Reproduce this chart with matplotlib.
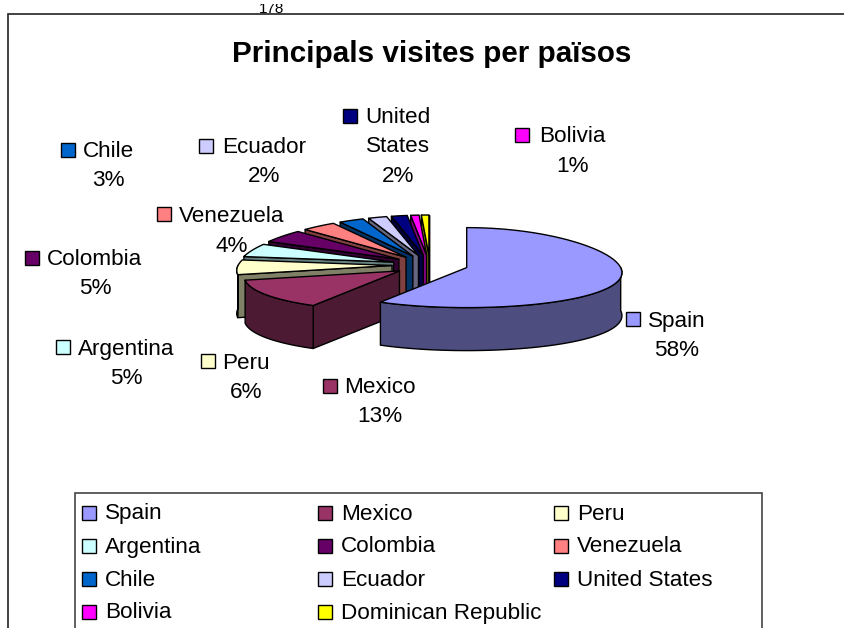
import numpy as np
import matplotlib
matplotlib.use('Agg')
import matplotlib.pyplot as plt
from matplotlib.patches import Polygon, Rectangle

plt.rcParams['font.family'] = ['Liberation Sans', 'DejaVu Sans']

# Data
countries = ['Spain', 'Mexico', 'Peru', 'Argentina', 'Colombia', 'Venezuela',
             'Chile', 'Ecuador', 'United States', 'Bolivia', 'Dominican Republic']
visits = [58.4, 12.9, 5.9, 5.1, 4.9, 3.9, 2.9, 2.2, 1.9, 1.0, 0.9]
colors = ['#9999FF', '#993366', '#FFFFCC', '#CCFFFF', '#660066', '#FF8080',
          '#0066CC', '#CCCCFF', '#000080', '#FF00FF', '#FFFF00']
title = 'Principals visites per països'

# Layout of the pie (pixels)
cx, cy = 430, 265       # centre before explosion
a, b = 154, 40          # ellipse radii
depth = 43
expl_x, expl_y = 38, 10
persp = 0.13            # front of the pie is drawn a bit wider than the back

# Data label layout: name -> (square x, square y, text centre x, line 1 y, lines)
label_layout = {
    'Spain': (633, 319, 677, 320, ['Spain']),
    'Mexico': (330, 386, 380, 386, ['Mexico']),
    'Peru': (208, 361, 246, 362, ['Peru']),
    'Argentina': (63, 347, 126, 348, ['Argentina']),
    'Colombia': (32, 258, 95, 258, ['Colombia']),
    'Venezuela': (164, 214, 232, 215, ['Venezuela']),
    'Chile': (68, 150, 108, 150, ['Chile']),
    'Ecuador': (206, 146, 264, 146, ['Ecuador']),
    'United States': (350, 116, 398, 116, ['United', 'States']),
    'Bolivia': (522, 135, 572, 135, ['Bolivia']),
}
line_h = 29.5

fig = plt.figure(figsize=(8.44, 6.28), dpi=100)
ax = fig.add_axes([0, 0, 1, 1])
ax.set_xlim(0, 844)
ax.set_ylim(628, 0)
ax.axis('off')


def darker(c):
    r, g, b_ = matplotlib.colors.to_rgb(c)
    return (r * 0.5, g * 0.5, b_ * 0.5)


def arc(x0, y0, t1, t2):
    t = np.linspace(t1, t2, 60)
    return np.column_stack([x0 + a * np.sin(t) * (1 - persp * np.cos(t)), y0 - b * np.cos(t)])


def wall(pts, col):
    ax.add_patch(Polygon(pts, closed=True, fc=col, ec='black', lw=1.0, zorder=3, joinstyle='round'))


fractions = np.array(visits) / sum(visits)
ends = np.cumsum(fractions) * 2 * np.pi
starts = ends - fractions * 2 * np.pi

# painter's order, back slices first and Spain on top
for i in range(len(visits) - 1, -1, -1):
    t1, t2 = starts[i], ends[i]
    mid = (t1 + t2) / 2
    x0 = cx + expl_x * np.sin(mid)
    y0 = cy - expl_y * np.cos(mid)
    side = darker(colors[i])

    # cut faces
    if np.sin(t1) < 0:
        p = arc(x0, y0, t1, t1)[0]
        wall([(x0, y0), p, (p[0], p[1] + depth), (x0, y0 + depth)], side)
    if np.sin(t2) > 0:
        p = arc(x0, y0, t2, t2)[0]
        wall([(x0, y0), p, (p[0], p[1] + depth), (x0, y0 + depth)], side)

    # outer wall, only the part facing the viewer
    lo, hi = max(t1, np.pi / 2), min(t2, 3 * np.pi / 2)
    if hi > lo:
        top = arc(x0, y0, lo, hi)
        bottom = top[::-1] + [0, depth]
        wall(np.vstack([top, bottom]), side)

    # top face
    pts = np.vstack([[(x0, y0)], arc(x0, y0, t1, t2)])
    wall(pts, colors[i])

# data labels
fs = 16.2
for name, val, col in zip(countries, visits, colors):
    if name not in label_layout:
        continue
    sx, sy, tx, ty, lines = label_layout[name]
    ax.add_patch(Rectangle((sx - 7, sy - 7), 14, 14, fc=col, ec='black', lw=1.0, zorder=5))
    lines = lines + ['%d%%' % round(val)]
    for k, s in enumerate(lines):
        ax.text(tx, ty + 1.5 + k * line_h, s, ha='center', va='center', fontsize=fs, zorder=6, color='black')

# title and chart frame
ax.text(432, 54, title, ha='center', va='center', fontsize=21.3, fontweight='bold', zorder=6)
ax.plot([8, 8, 844], [628, 14, 14], color='#222222', lw=1.2, zorder=2, solid_joinstyle='miter')

# text cut by the page above the chart
ax.text(272, 13, '178', ha='center', va='baseline', fontsize=11, zorder=1)
ax.add_patch(Rectangle((240, -2), 60, 6, fc='white', ec='none', zorder=1.5))

# legend box, cut by the bottom of the image
ax.plot([75, 75, 762, 762], [628, 493, 493, 628], color='#444444', lw=1.2, zorder=2, solid_joinstyle='miter')
col_x = [89, 325, 561]
row_y = [512.5, 545.5, 578.5, 611.5]
for i, (name, col) in enumerate(zip(countries, colors)):
    x = col_x[i % 3]
    y = row_y[i // 3]
    ax.add_patch(Rectangle((x - 7, y - 7), 14, 14, fc=col, ec='black', lw=1.0, zorder=5))
    ax.text(x + 16, y + 1.5, name, ha='left', va='center', fontsize=fs, zorder=6)

fig.savefig('out.png', dpi=100)
